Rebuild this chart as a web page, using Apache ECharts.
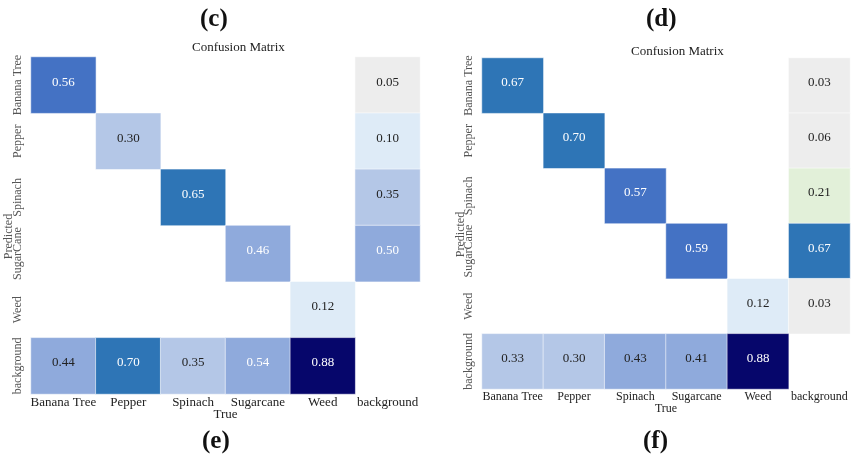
<!DOCTYPE html>
<html>
<head>
<meta charset="utf-8">
<script src="https://cdn.jsdelivr.net/npm/echarts@6/dist/echarts.min.js"></script>
<style>
html,body{margin:0;padding:0;background:#fff;}
#chart{width:866px;height:458px;}
</style>
</head>
<body>
<div id="chart"></div>
<script>
// ---- Data ----
const trueLabelsE = ['Banana Tree', 'Pepper', 'Spinach', 'Sugarcane', 'Weed', 'background'];
const predLabelsE = ['Banana Tree', 'Pepper', 'Spinach', 'SugarCane', 'Weed', 'background'];
const trueLabelsF = ['Banana Tree', 'Pepper', 'Spinach', 'Sugarcane', 'Weed', 'background'];
const predLabelsF = ['Banana Tree', 'Pepper', 'Spinach', 'SugarCane', 'Weed', 'background'];

// rows = predicted, columns = true (null = empty cell)
const matrixE = [
  [0.56, null, null, null, null, 0.05],
  [null, 0.30, null, null, null, 0.10],
  [null, null, 0.65, null, null, 0.35],
  [null, null, null, 0.46, null, 0.50],
  [null, null, null, null, 0.12, null],
  [0.44, 0.70, 0.35, 0.54, 0.88, null]
];
const matrixF = [
  [0.67, null, null, null, null, 0.03],
  [null, 0.70, null, null, null, 0.06],
  [null, null, 0.57, null, null, 0.21],
  [null, null, null, 0.59, null, 0.67],
  [null, null, null, null, 0.12, 0.03],
  [0.33, 0.30, 0.43, 0.41, 0.88, null]
];
const panelLabels = ['(c)', '(d)', '(e)', '(f)'];
const chartTitle = 'Confusion Matrix';
const xName = 'True';
const yName = 'Predicted';

function toCells(m) {
  const out = [];
  m.forEach((row, r) => row.forEach((v, c) => { if (v !== null) out.push([c, r, v]); }));
  return out;
}

const FONT = '"Liberation Serif", "DejaVu Serif", serif';

function makeX(gridIndex, cats, size, gap) {
  return {
    type: 'category', gridIndex, data: cats, position: 'bottom',
    axisLine: {show: false}, axisTick: {show: false}, splitLine: {show: false},
    axisLabel: {fontFamily: FONT, fontSize: size, color: '#222', margin: 2, interval: 0},
    name: xName, nameLocation: 'middle', nameGap: gap, nameMoveOverlap: false,
    nameTextStyle: {fontFamily: FONT, fontSize: size, color: '#222'}
  };
}
function makeY(gridIndex, cats, gap) {
  return {
    type: 'category', gridIndex, data: cats, inverse: true,
    axisLine: {show: false}, axisTick: {show: false}, splitLine: {show: false},
    axisLabel: {fontFamily: FONT, fontSize: 12, color: '#555', rotate: 90, margin: 7, interval: 0},
    name: yName, nameLocation: 'middle', nameGap: gap, nameRotate: 90, nameMoveOverlap: false,
    nameTextStyle: {fontFamily: FONT, fontSize: 12, color: '#555', padding: [0, 22, 0, 0]}
  };
}

function labelFmt(p) {
  const v = p.value[2];
  const s = v.toFixed(2);
  return v >= 0.45 ? '{w|' + s + '}' : '{d|' + s + '}';
}
const richLabel = {
  show: true, formatter: labelFmt,
  rich: {
    w: {color: '#fff', fontFamily: FONT, fontSize: 13, padding: [0, 0, 6, 0]},
    d: {color: '#222', fontFamily: FONT, fontSize: 13, padding: [0, 0, 6, 0]}
  }
};

const option = {
  backgroundColor: '#fff',
  animation: false,
  grid: [
    {left: 31, top: 57, width: 389, height: 337},
    {left: 482, top: 58, width: 368, height: 331}
  ],
  xAxis: [makeX(0, trueLabelsE, 13, 14), makeX(1, trueLabelsF, 12, 14)],
  yAxis: [makeY(0, predLabelsE, 16), makeY(1, predLabelsF, 15)],
  visualMap: {
    type: 'piecewise', show: false, dimension: 2, seriesIndex: [0, 1],
    pieces: [
      {gte: 0, lt: 0.08, color: '#EDEDED'},
      {gte: 0.08, lt: 0.18, color: '#DEEBF7'},
      {gte: 0.18, lt: 0.25, color: '#E2F0D9'},
      {gte: 0.25, lt: 0.40, color: '#B4C7E7'},
      {gte: 0.40, lt: 0.555, color: '#8FAADC'},
      {gte: 0.555, lt: 0.62, color: '#4472C4'},
      {gte: 0.62, lt: 0.80, color: '#2E75B6'},
      {gte: 0.80, lte: 1, color: '#06066B'}
    ]
  },
  series: [
    {type: 'heatmap', xAxisIndex: 0, yAxisIndex: 0, data: toCells(matrixE),
     itemStyle: {borderColor: 'rgba(255,255,255,0.55)', borderWidth: 1}, label: richLabel},
    {type: 'heatmap', xAxisIndex: 1, yAxisIndex: 1, data: toCells(matrixF),
     itemStyle: {borderColor: 'rgba(255,255,255,0.55)', borderWidth: 1}, label: richLabel}
  ],
  graphic: [
    {type: 'text', left: 200, top: 7, style: {text: panelLabels[0], font: 'bold 25px ' + FONT, fill: '#111'}},
    {type: 'text', left: 646, top: 7, style: {text: panelLabels[1], font: 'bold 25px ' + FONT, fill: '#111'}},
    {type: 'text', left: 202, top: 429, style: {text: panelLabels[2], font: 'bold 25px ' + FONT, fill: '#111'}},
    {type: 'text', left: 643, top: 429, style: {text: panelLabels[3], font: 'bold 25px ' + FONT, fill: '#111'}},
    {type: 'text', left: 192, top: 41, style: {text: chartTitle, font: '13px ' + FONT, fill: '#222'}},
    {type: 'text', left: 631, top: 45, style: {text: chartTitle, font: '13px ' + FONT, fill: '#222'}}
  ]
};

const chart = echarts.init(document.getElementById('chart'), null, {renderer: 'canvas'});
chart.setOption(option);
</script>
</body>
</html>
